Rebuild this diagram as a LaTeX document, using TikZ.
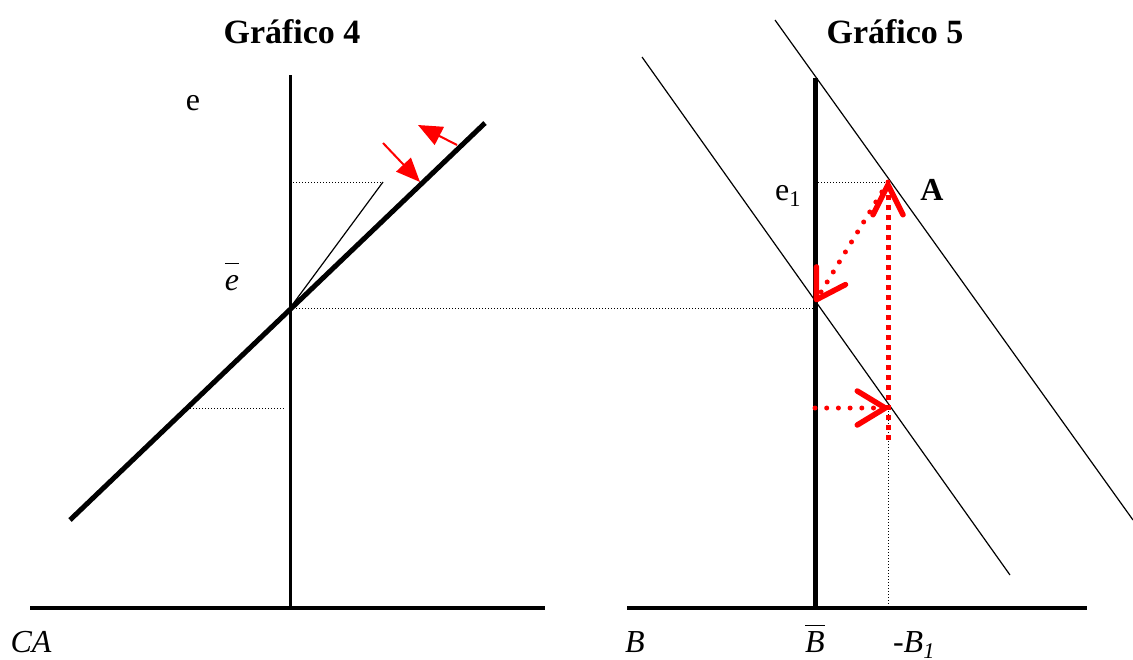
\documentclass[tikz,border=0pt]{standalone}
\usepackage{fontspec}
\setmainfont{Liberation Serif}
\usetikzlibrary{arrows.meta}
\newcommand{\barlbl}[1]{\ensuremath{\overline{\mbox{#1}\rule{0pt}{0.78em}}}}
\tikzset{
  titulo/.style={font=\fontsize{34}{40}\selectfont\bfseries, anchor=base, inner sep=0pt},
  lbl/.style={font=\fontsize{32}{38}\selectfont, anchor=base, inner sep=0pt},
  eje/.style={line width=4pt},
  curva/.style={line width=5pt},
  fina/.style={line width=1.2pt},
  guia/.style={line width=1pt, dash pattern=on 1pt off 2pt},
  empuje/.style={red, line width=2pt, -{Triangle[length=24pt,width=20pt]}},
  ajuste/.style={red, line width=5pt, line cap=round, dash pattern=on 0pt off 11.7pt,
                 -{Straight Barb[length=28pt,width=34pt,round,line width=5.5pt]}},
  ajustev/.style={red, line width=5pt, dash pattern=on 5pt off 5pt,
                  -{Straight Barb[length=30pt,width=30pt,round,line width=5.5pt]}},
}
\begin{document}
\begin{tikzpicture}[x=1pt,y=-1pt]
  \useasboundingbox (0,0) rectangle (1133,659);

  % Grafico 4
  \node[titulo] (t4) at (292,43) {Gráfico 4};
  \coordinate (ca0) at (30,608);
  \coordinate (ca1) at (545,608);
  \coordinate (v4a) at (290,75);
  \coordinate (v4b) at (290,608);
  \coordinate (r4a) at (70,520);
  \coordinate (r4b) at (485,123);
  \coordinate (eq4) at (290,308);
  \coordinate (p4) at (383,182);
  \draw[eje] (ca0) -- (ca1);
  \draw[line width=3pt] (v4a) -- (v4b);
  \draw[curva] (r4a) -- (r4b);
  \draw[fina] (eq4) -- (p4);
  \draw[guia] (293,182) -- (p4);
  \draw[guia] (190,408) -- (285,408);
  \draw[empuje] (383,143) -- (420,182);
  \draw[empuje] (457,145) -- (418,125);
  \node[lbl] (le) at (193,110) {e};
  \node[lbl] (lebar) at (232,290) {\barlbl{\textit{e}}};
  \node[lbl] (lca) at (31,652) {\textit{CA}};

  % Grafico 5
  \node[titulo] (t5) at (895,43) {Gráfico 5};
  \coordinate (b0) at (627,608);
  \coordinate (b1) at (1087,608);
  \coordinate (v5a) at (815,78);
  \coordinate (v5b) at (815,608);
  \coordinate (eq5) at (815,302);
  \coordinate (A) at (888,182);
  \coordinate (q5) at (888,408);
  \draw[eje] (b0) -- (b1);
  \draw[line width=5pt] (v5a) -- (v5b);
  \draw[fina] (642,57) -- (1010,575);
  \draw[fina] (775,20) -- (1133,520);
  \draw[guia] (eq4) -- (eq4 -| v5a);
  \draw[guia] (v5a |- A) -- (A);
  \draw[guia] (q5) -- (888,608);
  \draw[ajustev] (888,440) -- (A);
  \draw[ajuste] (A) -- (eq5);
  \draw[ajuste] (v5a |- q5) -- (q5);
  \node[lbl] (le1) at (788,200) {e\textsubscript{1}};
  \node[lbl, font=\fontsize{32}{38}\selectfont\bfseries] (lA) at (932,200) {A};
  \node[lbl] (lb) at (635,652) {\textit{B}};
  \node[lbl] (lbbar) at (815,652) {\barlbl{\textit{B}}};
  \node[lbl] (lb1) at (914,652) {\textit{-B}\textsubscript{\textit{1}}};
\end{tikzpicture}
\end{document}
